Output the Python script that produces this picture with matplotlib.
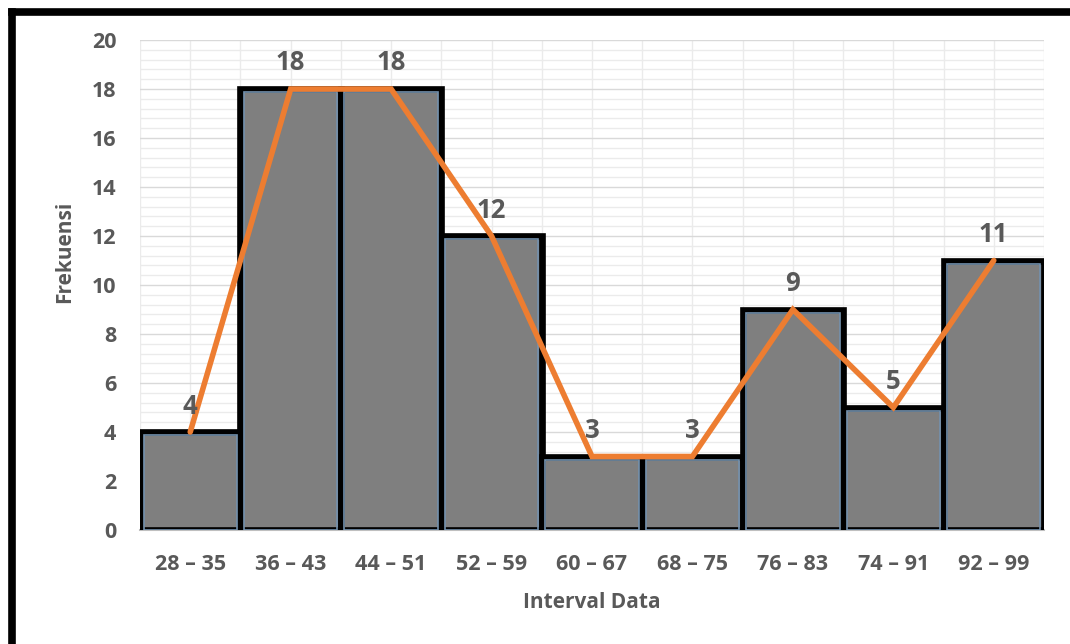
import matplotlib
matplotlib.use("Agg")
import matplotlib.pyplot as plt
from matplotlib.ticker import MultipleLocator
import numpy as np

categories = ["28 – 35", "36 – 43", "44 – 51", "52 – 59", "60 – 67", "68 – 75", "76 – 83", "74 – 91", "92 – 99"]
frequencies = [4, 18, 18, 12, 3, 3, 9, 5, 11]
y_ticks = [0, 2, 4, 6, 8, 10, 12, 14, 16, 18, 20]

plt.rcParams['font.family'] = ['Open Sans', 'DejaVu Sans']
TXT = '#595959'

fig = plt.figure(figsize=(10.7, 6.44), dpi=100)
ax = fig.add_axes([140/1070, 1-530/644, (1044-140)/1070, (530-40)/644])

x = np.arange(len(categories))
ax.set_xlim(-0.5, len(categories) - 0.5)
ax.set_ylim(0, 20)

# grid
ax.yaxis.set_major_locator(MultipleLocator(2))
ax.yaxis.set_minor_locator(MultipleLocator(0.4))
ax.set_xticks(x)
ax.set_xticks(np.arange(-0.5, len(categories), 0.5), minor=True)
ax.grid(which='minor', axis='both', color='#ebebeb', lw=1.0, zorder=0)
ax.grid(which='major', axis='y', color='#d9d9d9', lw=1.0, zorder=0)
ax.grid(which='major', axis='x', color='#ebebeb', lw=1.0, zorder=0)
ax.set_axisbelow(True)

# bars
ax.bar(x, frequencies, width=1.0, color='#7f7f7f', edgecolor='#000000', linewidth=4.8, zorder=2, joinstyle='miter')
ax.bar(x, np.array(frequencies) - 0.14, width=0.93, color='none', edgecolor='#7391ad', linewidth=1.2, zorder=2.5)

# polygon line
ax.plot(x, frequencies, color='#ED7D31', lw=4.0, zorder=3, solid_joinstyle='miter', solid_capstyle='round')

for xi, v in zip(x, frequencies):
    ax.annotate(str(v), (xi, v), xytext=(0, 9), textcoords='offset points',
                ha='center', va='bottom', fontsize=18.5, fontweight='bold', color=TXT, zorder=4)

for s in ['top', 'right', 'left']:
    ax.spines[s].set_visible(False)
ax.spines['bottom'].set_color('#bfbfbf')
ax.spines['bottom'].set_linewidth(1.5)
ax.spines['bottom'].set_zorder(1)

ax.set_yticks(y_ticks)
ax.set_xticklabels(categories)
ax.tick_params(axis='both', which='both', length=0)
ax.tick_params(axis='y', pad=17, labelsize=15.5, labelcolor=TXT)
ax.tick_params(axis='x', pad=17, labelsize=15.5, labelcolor=TXT)
for lab in ax.get_xticklabels() + ax.get_yticklabels():
    lab.set_fontweight('bold')

fig.text(65/1070, 1-252/644, 'Frekuensi', rotation=90, ha='center', va='center',
         fontsize=15, fontweight='bold', color=TXT)
fig.text(592/1070, 1-603/644, 'Interval Data', ha='center', va='center',
         fontsize=15, fontweight='bold', color=TXT)

# outer frame (top and left)
fig.add_artist(plt.Line2D([12/1070, 1.0], [1-11.5/644, 1-11.5/644], color='black', lw=5.5, transform=fig.transFigure))
fig.add_artist(plt.Line2D([12/1070, 12/1070], [0.0, 1-11.5/644], color='black', lw=5.5, transform=fig.transFigure, solid_capstyle='projecting'))

fig.savefig('out.png', dpi=100)
